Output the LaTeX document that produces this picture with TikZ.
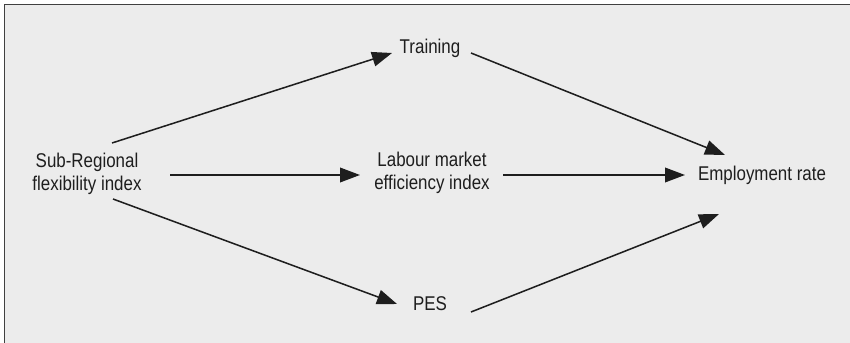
\documentclass[tikz,border=0pt]{standalone}
\usepackage{fontspec}
\setmainfont{Liberation Sans}[FakeStretch=0.85]
\usetikzlibrary{arrows.meta}

\definecolor{panel}{HTML}{ECECEC}
\definecolor{ink}{HTML}{1E1E1E}

\begin{document}
\begin{tikzpicture}

		\tikzset{
			var/.style={
				text=ink,
				align=center,
				inner sep=0pt,
				font=\fontsize{17}{19.5}\selectfont
			},
			link/.style={
				draw=ink,
				line width=1.3pt,
				-{Triangle[length=0.6cm,width=0.44cm]}
			}
		}

		% panel with its frame
		\useasboundingbox (0,0) rectangle (25.5,-10.29);
		\fill[white] (0,0) rectangle (25.5,-10.29);
		\fill[panel] (0.135,-0.135) rectangle (25.6,-10.4);
		\draw[line width=1.6pt,black!75] (0.135,-10.4) -- (0.135,-0.135) -- (25.6,-0.135);

		\node[var] (sub) at (2.61,-5.22) {Sub-Regional\\flexibility index};
		\node[var] (train) at (12.9,-1.44) {Training};
		\node[var] (lab) at (12.96,-5.19) {Labour market\\efficiency index};
		\node[var] (pes) at (12.9,-9.12) {PES};
		\node[var] (emp) at (22.86,-5.25) {Employment rate};

		\draw[link] ([shift={(0.75,0.93)}]sub.center) -- ([shift={(-1.14,-0.15)}]train.center);
		\draw[link] ([shift={(2.49,-0.03)}]sub.center) -- ([shift={(-2.16,-0.06)}]lab.center);
		\draw[link] ([shift={(0.78,-0.75)}]sub.center) -- ([shift={(-0.99,0)}]pes.center);

		\draw[link] ([shift={(1.23,-0.15)}]train.center) -- ([shift={(-1.11,0.6)}]emp.center);
		\draw[link] ([shift={(2.13,-0.06)}]lab.center) -- ([shift={(-2.31,0)}]emp.center);
		\draw[link] ([shift={(1.23,-0.24)}]pes.center) -- ([shift={(-1.29,-1.17)}]emp.center);

\end{tikzpicture}
\end{document}
